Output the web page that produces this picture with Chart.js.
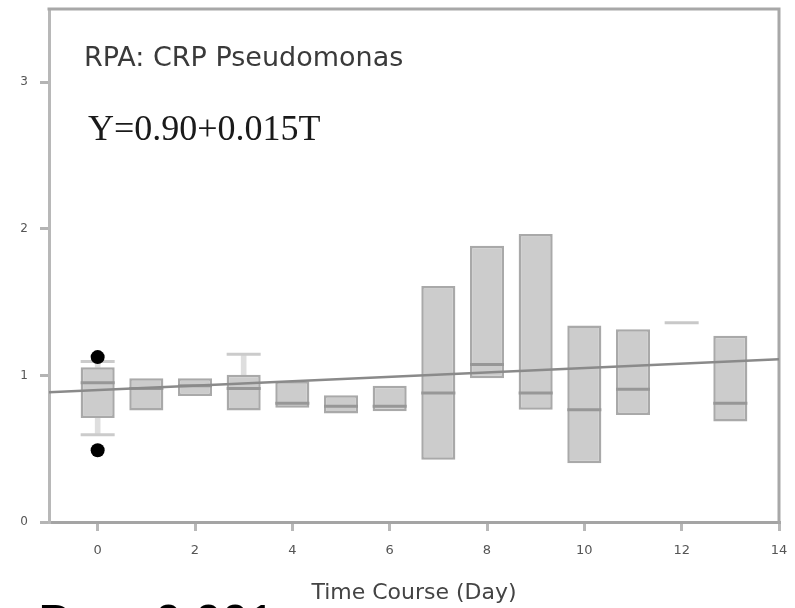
<!DOCTYPE html>
<html>
<head>
<meta charset="utf-8">
<style>
  html, body { margin: 0; padding: 0; background: #ffffff; }
  #wrap { width: 795px; height: 608px; position: relative; }
</style>
<script src="https://cdn.jsdelivr.net/npm/chart.js@4.4.1/dist/chart.umd.min.js"></script>
</head>
<body>
<div id="wrap"><canvas id="chart" width="795" height="608"></canvas></div>
<script>
// Daily box summaries of the RPA CRP response (Pseudomonas)
const days       = [0, 1, 2, 3, 4, 5, 6, 7, 8, 9, 10, 11, 12, 13];
const q1         = [0.71, 0.76, 0.86, 0.76, 0.78, 0.74, 0.755, 0.425, 0.98, 0.765, 0.40, 0.73, 1.36, 0.685];
const medians    = [0.95, 0.91, 0.93, 0.91, 0.81, 0.79, 0.79, 0.88, 1.075, 0.88, 0.765, 0.905, 1.36, 0.81];
const q3         = [1.055, 0.98, 0.98, 1.005, 0.96, 0.865, 0.93, 1.61, 1.885, 1.965, 1.34, 1.315, 1.36, 1.27];
const whiskerLow  = [0.595, null, null, null, null, null, null, null, null, null, null, null, null, null];
const whiskerHigh = [1.095, null, null, 1.145, null, null, null, null, null, null, null, null, null, null];
const outlierDays   = [0, 0];
const outlierValues = [1.125, 0.49];

// Fitted trend: Y = intercept + slope * T
const intercept = 0.90;
const slope = 0.015;

const xTicks = [0, 2, 4, 6, 8, 10, 12, 14];
const yTicks = [0, 1, 2, 3];
const xRange = [-1, 14];
const yRange = [0, 3.5];

const panelTitle = 'RPA: CRP Pseudomonas';
const xTitle = 'Time Course (Day)';
const pLabel = 'P';
const pValue = '= 0.001';

const boxData = days.map((d, i) => ({ x: d, y: [q1[i], q3[i]] }));
const medianData = days.map((d, i) => ({ x: d, y: medians[i] }));
const upperWhisker = [], lowerWhisker = [], capData = [];
days.forEach((d, i) => {
  if (whiskerHigh[i] !== null) {
    upperWhisker.push({ x: d, y: [q3[i], whiskerHigh[i]] });
    capData.push({ x: d, y: whiskerHigh[i] });
  }
  if (whiskerLow[i] !== null) {
    lowerWhisker.push({ x: d, y: [whiskerLow[i], q1[i]] });
    capData.push({ x: d, y: whiskerLow[i] });
  }
});
const outlierData = outlierDays.map((d, i) => ({ x: d, y: outlierValues[i] }));
const trendData = xRange.map(t => ({ x: t, y: intercept + slope * t }));
const formulaText = 'Y=' + intercept.toFixed(2) + '+' + slope.toFixed(3) + 'T';

// Axis boxes keep a fixed size and do not reserve extra room for edge labels
function fixAxis(size, horizontal) {
  return (s) => {
    if (horizontal) s.height = size; else s.width = size;
    s.paddingTop = 0; s.paddingBottom = 0; s.paddingLeft = 0; s.paddingRight = 0;
  };
}

// Frame on the top and right sides of the plot area
const framePlugin = {
  id: 'frame',
  beforeDatasetsDraw(chart) {
    const { ctx, chartArea: a } = chart;
    ctx.save();
    ctx.strokeStyle = '#a8a8a8';
    ctx.lineWidth = 3;
    ctx.beginPath();
    ctx.moveTo(a.left - 1.5, a.top);
    ctx.lineTo(a.right, a.top);
    ctx.lineTo(a.right, a.bottom + 1.5);
    ctx.stroke();
    ctx.restore();
  }
};

// Panel caption, fitted equation and p-value
const textPlugin = {
  id: 'panelText',
  afterDraw(chart) {
    const { ctx } = chart;
    ctx.save();
    ctx.textBaseline = 'alphabetic';
    ctx.textAlign = 'left';
    ctx.fillStyle = '#3a3a3a';
    ctx.font = '27px "DejaVu Sans"';
    ctx.fillText(panelTitle, 84, 66);
    ctx.fillStyle = '#1a1a1a';
    ctx.font = '36px "Liberation Serif"';
    ctx.fillText(formulaText, 88, 140);
    ctx.fillStyle = '#000000';
    ctx.font = '48px "Liberation Sans"';
    ctx.fillText(pLabel, 38, 638);
    const lead = ctx.measureText('= ').width;
    ctx.fillText(pValue, 155 - lead, 638);
    ctx.restore();
  }
};

new Chart(document.getElementById('chart'), {
  type: 'bar',
  data: {
    datasets: [
      {
        type: 'bar', data: upperWhisker, order: 6, grouped: false,
        barThickness: 5, backgroundColor: '#dedede', borderWidth: 0
      },
      {
        type: 'bar', data: lowerWhisker, order: 6, grouped: false,
        barThickness: 5, backgroundColor: '#dedede', borderWidth: 0
      },
      {
        type: 'scatter', data: capData, order: 5,
        pointStyle: 'line', pointRadius: 17, borderWidth: 3, borderColor: '#cbcbcb'
      },
      {
        type: 'bar', data: boxData, order: 4, grouped: false,
        categoryPercentage: 1, barPercentage: 0.7,
        backgroundColor: '#cccccc', borderColor: '#a9a9a9', borderWidth: 2.5,
        borderSkipped: false
      },
      {
        type: 'scatter', data: medianData, order: 3,
        pointStyle: 'line', pointRadius: 17, borderWidth: 3,
        borderColor: (c) => (c.raw && q1[c.dataIndex] === q3[c.dataIndex]) ? '#c8c8c8' : '#979797'
      },
      {
        type: 'line', data: trendData, order: 2,
        borderColor: '#8a8a8a', borderWidth: 2.5, pointRadius: 0, fill: false
      },
      {
        type: 'scatter', data: outlierData, order: 1,
        pointStyle: 'circle', pointRadius: 7, backgroundColor: '#000000', borderColor: '#000000', borderWidth: 0
      }
    ]
  },
  options: {
    responsive: false,
    animation: false,
    events: [],
    layout: { autoPadding: false, padding: { top: 9, right: 16, left: 0, bottom: 0 } },
    plugins: { legend: { display: false }, tooltip: { enabled: false } },
    scales: {
      x: {
        type: 'linear', min: xRange[0], max: xRange[1], offset: false,
        afterBuildTicks: (s) => { s.ticks = xTicks.map(v => ({ value: v })); },
        afterFit: fixAxis(86, true),
        ticks: { color: '#555555', font: { family: 'DejaVu Sans', size: 13 }, padding: 12, maxRotation: 0 },
        grid: { drawOnChartArea: false, drawTicks: true, tickLength: 9, color: '#b8b8b8', lineWidth: 3, offset: false },
        border: { display: true, color: '#a4a4a4', width: 3 },
        title: { display: true, text: xTitle, color: '#444444', font: { family: 'DejaVu Sans', size: 22 }, padding: { top: 0, bottom: 2 } }
      },
      y: {
        type: 'linear', min: yRange[0], max: yRange[1],
        afterBuildTicks: (s) => { s.ticks = yTicks.map(v => ({ value: v })); },
        afterFit: fixAxis(49, false),
        ticks: { color: '#555555', font: { family: 'DejaVu Sans', size: 12 }, padding: 12 },
        grid: { drawOnChartArea: false, drawTicks: true, tickLength: 9, color: '#b4b4b4', lineWidth: 3 },
        border: { display: true, color: '#b8b8b8', width: 3 }
      }
    }
  },
  plugins: [framePlugin, textPlugin]
});
</script>
</body>
</html>
